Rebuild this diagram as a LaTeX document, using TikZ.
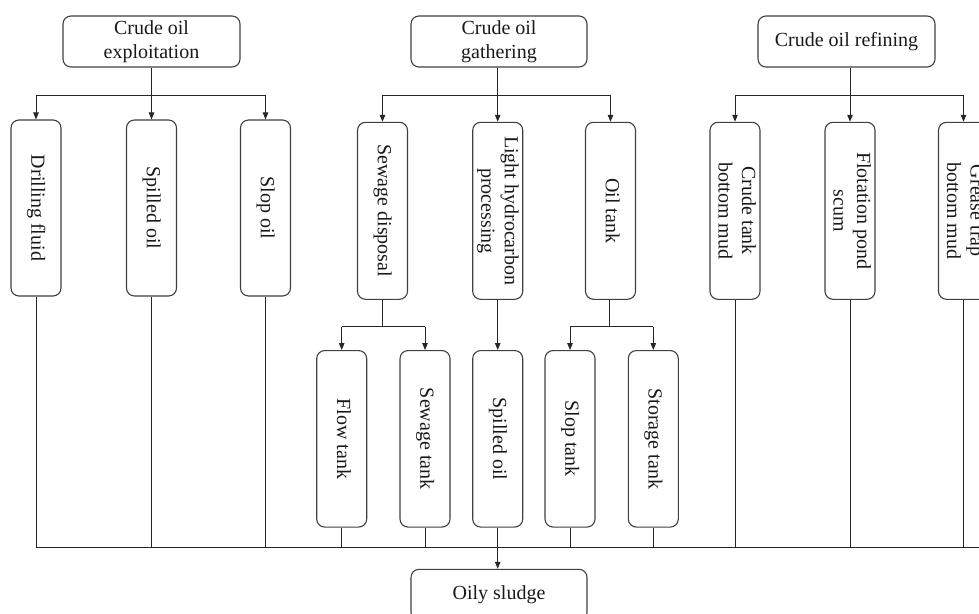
\documentclass[tikz,border=0pt]{standalone}
\usepackage{fontspec}
\setmainfont{Liberation Serif}
\usepackage{graphicx}
\usetikzlibrary{arrows.meta}
\newcommand\VertLbl[1]{\rotatebox{-90}{\begin{tabular}{@{}c@{}}#1\end{tabular}}}
\begin{document}
\begin{tikzpicture}[x=1pt,y=-1pt,
  box/.style={draw=black!75, line width=1.1pt, rounded corners=8pt, inner sep=0pt,
    font=\fontsize{20}{23.5}\selectfont, text=black!90},
  topbox/.style={box, minimum width=177pt, minimum height=51pt, align=center},
  vbox/.style={box, minimum width=50pt, minimum height=177pt},
  wire/.style={draw=black!85, line width=1pt},
  arr/.style={wire, -{Triangle[length=7pt,width=5.5pt]}}]
\useasboundingbox (0,0) rectangle (979,613);
\clip (0,0) rectangle (979,613);
% top level
\node[topbox] (exp)  at (151.5,41.5) {Crude oil\\exploitation};
\node[topbox, minimum width=176pt] (gath) at (499,41.5) {Crude oil\\gathering};
\node[topbox] (ref)  at (846.5,41.5) {Crude oil refining};
% second level
\node[vbox, minimum height=176pt] (drill)  at (36,208)    {\VertLbl{Drilling fluid}};
\node[vbox, minimum height=176pt] (spillA) at (151.5,208) {\VertLbl{Spilled oil}};
\node[vbox, minimum height=176pt] (slop)   at (265.5,208) {\VertLbl{Slop oil}};
\node[vbox] (sew)   at (382.5,210.8) {\VertLbl{Sewage disposal}};
\node[vbox] (lh)    at (497.7,210.8) {\VertLbl{Light hydrocarbon\\processing}};
\node[vbox] (oilt)  at (610.5,210.8) {\VertLbl{Oil tank}};
\node[vbox] (crude) at (735,210.8)   {\VertLbl{Crude tank\\bottom mud}};
\node[vbox] (flot)  at (850,210.8)   {\VertLbl{Flotation pond\\scum}};
\node[vbox] (grease) at (963.5,210.8) {\VertLbl{Grease trap\\bottom mud}};
% third level
\node[vbox, minimum height=176.5pt] (flow)   at (341.7,438.8) {\VertLbl{Flow tank}};
\node[vbox, minimum height=176.5pt] (sewt)   at (425,438.8)   {\VertLbl{Sewage tank}};
\node[vbox, minimum height=176.5pt] (spillB) at (497.7,438.8) {\VertLbl{Spilled oil}};
\node[vbox, minimum height=176.5pt] (sloptk) at (570,438.8)   {\VertLbl{Slop tank}};
\node[vbox, minimum height=176.5pt] (stor)   at (653.3,438.8) {\VertLbl{Storage tank}};
% bottom
\node[topbox, minimum width=176pt] (sludge) at (499,594.8) {Oily sludge};
% helper levels
\coordinate (lvA) at (0,95);
\coordinate (lvB) at (0,326.7);
\coordinate (busL) at (36,547.3);
\coordinate (busR) at (990,547.3);
% exploitation branch
\draw[wire] (drill.north |- lvA) -- (slop.north |- lvA);
\draw[arr] (exp.south) -- (spillA.north);
\draw[arr] (drill.north |- lvA) -- (drill.north);
\draw[arr] (slop.north |- lvA) -- (slop.north);
% gathering branch
\draw[wire] (sew.north |- lvA) -- (oilt.north |- lvA);
\draw[arr] (lh.north |- gath.south) -- (lh.north);
\draw[arr] (sew.north |- lvA) -- (sew.north);
\draw[arr] (oilt.north |- lvA) -- (oilt.north);
% refining branch
\draw[wire] (crude.north |- lvA) -- (grease.north |- lvA);
\draw[arr] (flot.north |- ref.south) -- (flot.north);
\draw[arr] (crude.north |- lvA) -- (crude.north);
\draw[arr] (grease.north |- lvA) -- (grease.north);
% sewage disposal split
\draw[wire] (sew.south) -- (sew.south |- lvB);
\draw[wire] (flow.north |- lvB) -- (sewt.north |- lvB);
\draw[arr] (flow.north |- lvB) -- (flow.north);
\draw[arr] (sewt.north |- lvB) -- (sewt.north);
% light hydrocarbon
\draw[arr] (lh.south) -- (spillB.north);
% oil tank split
\draw[wire] ([xshift=-1.2pt]oilt.south) -- ([xshift=-1.2pt]oilt.south |- lvB);
\draw[wire] (sloptk.north |- lvB) -- (stor.north |- lvB);
\draw[arr] (sloptk.north |- lvB) -- (sloptk.north);
\draw[arr] (stor.north |- lvB) -- (stor.north);
% collector bus
\draw[wire] (busL) -- (busR);
\foreach \n in {drill,spillA,slop,flow,sewt,sloptk,stor,crude,flot,grease}
  \draw[wire] (\n.south) -- (\n.south |- busL);
\draw[wire] (spillB.south) -- (spillB.south |- busL);
\draw[arr] (spillB.south |- busL) -- (spillB.south |- sludge.north);
\end{tikzpicture}
\end{document}
